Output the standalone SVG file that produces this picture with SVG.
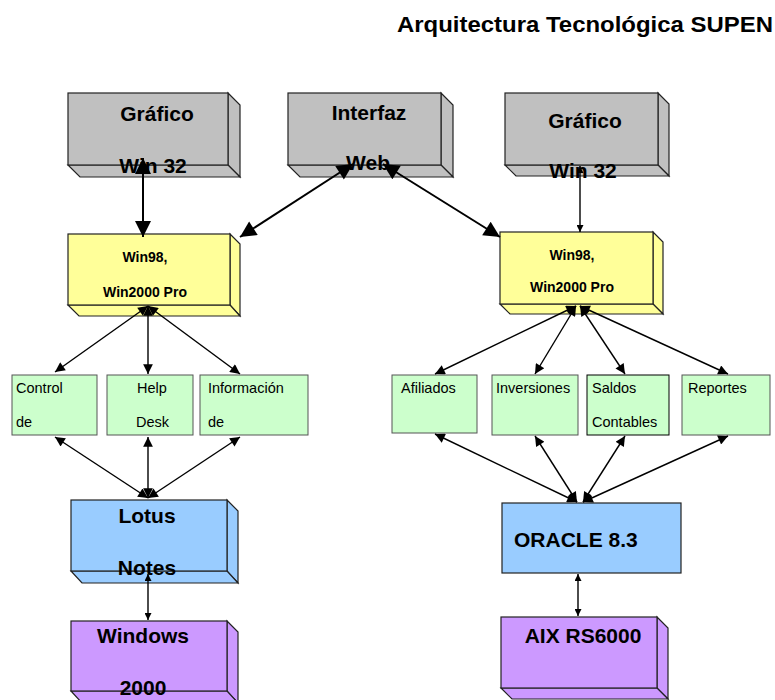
<svg xmlns="http://www.w3.org/2000/svg" width="775" height="700" viewBox="0 0 775 700">
<style>
.bx{stroke:#222;stroke-width:1.2}
.g{fill:#c0c0c0}.y{fill:#ffff99}.gr{fill:#ccffcc}.b{fill:#99ccff}.p{fill:#cc99ff}
.big{font-family:"Liberation Sans",Arial,sans-serif;font-weight:bold;font-size:21px;fill:#000}
.mid{font-family:"Liberation Sans",Arial,sans-serif;font-weight:bold;font-size:14px;fill:#000}
.sm{font-family:"Liberation Sans",Arial,sans-serif;font-size:14.5px;fill:#000}
.ttl{font-family:"Liberation Sans",Arial,sans-serif;font-weight:bold;font-size:22px;fill:#000}
.c1{stroke:#000;stroke-width:2;fill:none;marker-start:url(#ab);marker-end:url(#ab)}
.c2{stroke:#000;stroke-width:1.4;fill:none;marker-start:url(#am);marker-end:url(#am)}
.c3{stroke:#000;stroke-width:1.4;fill:none;marker-start:url(#as);marker-end:url(#as)}
</style>
<defs>
<marker id="ab" viewBox="0 0 10 10" refX="10" refY="5" markerWidth="10" markerHeight="8" markerUnits="strokeWidth" orient="auto-start-reverse"><path d="M0,0 L10,5 L0,10 z" fill="#000"/></marker>
<marker id="am" viewBox="0 0 10 10" refX="10" refY="5" markerWidth="9" markerHeight="7" markerUnits="strokeWidth" orient="auto-start-reverse"><path d="M0,0 L10,5 L0,10 z" fill="#000"/></marker>
<marker id="as" viewBox="0 0 10 10" refX="10" refY="5" markerWidth="7" markerHeight="5" markerUnits="strokeWidth" orient="auto-start-reverse"><path d="M0,0 L10,5 L0,10 z" fill="#000"/></marker>
</defs>
<text class="ttl" x="397" y="32" textLength="376" lengthAdjust="spacingAndGlyphs">Arquitectura Tecnológica SUPEN</text>

<g id="grafico-left">
<polygon class="bx g" points="228,93 240,105 240,177 228,165"/>
<polygon class="bx g" points="68,165 228,165 240,177 80,177"/>
<rect class="bx g" x="68" y="93" width="160" height="72"/>
<text class="big" x="157" y="121" text-anchor="middle">Gráfico</text>
<text class="big" x="153" y="173" text-anchor="middle">Win 32</text>
</g>
<g id="interfaz-web">
<polygon class="bx g" points="441,93 453,105 453,177 441,165"/>
<polygon class="bx g" points="288,165 441,165 453,177 300,177"/>
<rect class="bx g" x="288" y="93" width="153" height="72"/>
<text class="big" x="369" y="120" text-anchor="middle">Interfaz</text>
<text class="big" x="368" y="170" text-anchor="middle">Web</text>
</g>
<g id="grafico-right">
<polygon class="bx g" points="658,93 669,104 669,176 658,165"/>
<polygon class="bx g" points="505,165 658,165 669,176 516,176"/>
<rect class="bx g" x="505" y="93" width="153" height="72"/>
<text class="big" x="585" y="128" text-anchor="middle">Gráfico</text>
<text class="big" x="583" y="178" text-anchor="middle">Win 32</text>
</g>
<g id="win98-left">
<polygon class="bx y" points="230,234 240,244 240,316 230,305"/>
<polygon class="bx y" points="68,305 230,305 240,316 79,316"/>
<rect class="bx y" x="68" y="234" width="162" height="71"/>
<text class="mid" x="145" y="262" text-anchor="middle">Win98,</text>
<text class="mid" x="145" y="297" text-anchor="middle">Win2000 Pro</text>
</g>
<g id="win98-right">
<polygon class="bx y" points="653,232 663,242 663,314 653,304"/>
<polygon class="bx y" points="500,304 653,304 663,314 510,314"/>
<rect class="bx y" x="500" y="232" width="153" height="72"/>
<text class="mid" x="572" y="260" text-anchor="middle">Win98,</text>
<text class="mid" x="572" y="292" text-anchor="middle">Win2000 Pro</text>
</g>
<g id="control">
<rect class="gr" x="12" y="375" width="85" height="60" stroke="#555" stroke-width="1"/>
<text class="sm" x="16" y="393">Control</text>
<text class="sm" x="16" y="427">de</text>
</g>
<g id="helpdesk">
<rect class="gr" x="107" y="375" width="86" height="60" stroke="#555" stroke-width="1"/>
<text class="sm" x="137" y="393">Help</text>
<text class="sm" x="136" y="427">Desk</text>
</g>
<g id="informacion">
<rect class="gr" x="200" y="375" width="108" height="60" stroke="#555" stroke-width="1"/>
<text class="sm" x="208" y="393">Información</text>
<text class="sm" x="208" y="427">de</text>
</g>
<g id="afiliados">
<rect class="gr" x="392" y="375" width="85" height="58" stroke="#555" stroke-width="1"/>
<text class="sm" x="401" y="393">Afiliados</text>
</g>
<g id="inversiones">
<rect class="gr" x="492" y="375" width="86" height="60" stroke="#555" stroke-width="1"/>
<text class="sm" x="496" y="393">Inversiones</text>
</g>
<g id="saldos">
<rect class="gr" x="587" y="375" width="82" height="60" stroke="#000" stroke-width="1"/>
<text class="sm" x="592" y="393">Saldos</text>
<text class="sm" x="592" y="427">Contables</text>
</g>
<g id="reportes">
<rect class="gr" x="682" y="375" width="88" height="60" stroke="#555" stroke-width="1"/>
<text class="sm" x="688" y="393">Reportes</text>
</g>
<g id="lotus">
<polygon class="bx b" points="227,500 238,511 238,583 227,571"/>
<polygon class="bx b" points="71,571 227,571 238,583 82,583"/>
<rect class="bx b" x="71" y="500" width="156" height="71"/>
<text class="big" x="147" y="523" text-anchor="middle">Lotus</text>
<text class="big" x="147" y="575" text-anchor="middle">Notes</text>
</g>
<g id="oracle">
<rect class="bx b" x="502" y="503" width="179" height="70"/>
<text class="big" x="514" y="547">ORACLE 8.3</text>
</g>
<g id="windows">
<polygon class="bx p" points="227,621 238,632 238,703 227,691"/>
<polygon class="bx p" points="71,691 227,691 238,703 82,703"/>
<rect class="bx p" x="71" y="621" width="156" height="70"/>
<text class="big" x="143" y="643" text-anchor="middle">Windows</text>
<text class="big" x="143" y="695" text-anchor="middle">2000</text>
</g>
<g id="aix">
<polygon class="bx p" points="657,617 668,628 668,699 657,688"/>
<polygon class="bx p" points="501,688 657,688 668,699 512,699"/>
<rect class="bx p" x="501" y="617" width="156" height="71"/>
<text class="big" x="583" y="643" text-anchor="middle">AIX RS6000</text>
</g>

<g id="connectors">
<line class="c1" x1="143" y1="158" x2="143" y2="237"/>
<line class="c1" x1="353" y1="164" x2="240" y2="237"/>
<line class="c1" x1="383" y1="164" x2="500" y2="237"/>
<line class="c3" x1="580" y1="166" x2="580" y2="232"/>
<line class="c2" x1="148" y1="306" x2="55" y2="372"/>
<line class="c2" x1="148" y1="306" x2="148" y2="374"/>
<line class="c2" x1="148" y1="306" x2="240" y2="374"/>
<line class="c2" x1="55" y1="437" x2="148" y2="498"/>
<line class="c2" x1="148" y1="437" x2="148" y2="498"/>
<line class="c2" x1="240" y1="437" x2="148" y2="498"/>
<line class="c3" x1="148" y1="574" x2="148" y2="620"/>
<line class="c2" x1="576" y1="306" x2="435" y2="374"/>
<line class="c2" x1="576" y1="306" x2="535" y2="374"/>
<line class="c2" x1="580" y1="306" x2="625" y2="374"/>
<line class="c2" x1="580" y1="306" x2="728" y2="374"/>
<line class="c2" x1="435" y1="434" x2="577" y2="502"/>
<line class="c2" x1="535" y1="436" x2="577" y2="502"/>
<line class="c2" x1="625" y1="436" x2="583" y2="502"/>
<line class="c2" x1="728" y1="436" x2="583" y2="502"/>
<line class="c3" x1="578" y1="574" x2="578" y2="616"/>
</g>
</svg>
